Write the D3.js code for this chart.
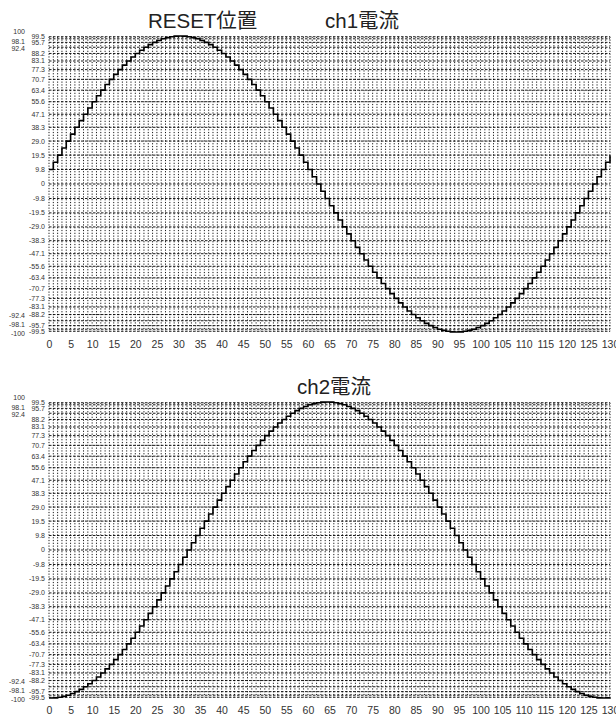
<!DOCTYPE html>
<html lang="ja">
<head>
    <meta charset="UTF-8">
    <title>ch1 / ch2 電流</title>
    <script src="https://d3js.org/d3.v7.min.js"></script>
    <style>
        body { margin: 0; background: #fff; }
        svg { display: block; font-family: "Liberation Sans", Arial, "Noto Sans CJK JP", sans-serif; }
        .title { font-size: 20.5px; fill: #222; }
        .ylab { font-size: 7px; fill: #333; }
        .xaxis text { font-size: 10.5px; fill: #333; font-family: "Liberation Sans", Arial, sans-serif; }
    </style>
</head>
<body>
    <script>
        // step number on the x axis
        const xTicks = [0, 5, 10, 15, 20, 25, 30, 35, 40, 45, 50, 55, 60, 65, 70, 75, 80, 85, 90, 95, 100, 105, 110, 115, 120, 125, 130];

        // current levels (%) labelled on the right column / stacked on the left
        const yTicksRight = [99.5, 95.7, 88.2, 83.1, 77.3, 70.7, 63.4, 55.6, 47.1, 38.3, 29.0, 19.5, 9.8, 0,
            -9.8, -19.5, -29.0, -38.3, -47.1, -55.6, -63.4, -70.7, -77.3, -83.1, -88.2, -95.7, -99.5];
        const yTicksLeft = [100, 98.1, 92.4, -92.4, -98.1, -100];

        const ch1 = [
            9.8, 14.7, 19.5, 24.3, 29.0, 33.7, 38.3, 42.8, 47.1, 51.4, 55.6, 59.6, 63.4, 67.2, 70.7, 74.1,
            77.3, 80.3, 83.1, 85.8, 88.2, 90.4, 92.4, 94.2, 95.7, 97.0, 98.1, 98.9, 99.5, 99.9, 100,
            99.9, 99.5, 98.9, 98.1, 97.0, 95.7, 94.2, 92.4, 90.4, 88.2, 85.8, 83.1, 80.3, 77.3, 74.1, 70.7,
            67.2, 63.4, 59.6, 55.6, 51.4, 47.1, 42.8, 38.3, 33.7, 29.0, 24.3, 19.5, 14.7, 9.8, 4.9, 0,
            -4.9, -9.8, -14.7, -19.5, -24.3, -29.0, -33.7, -38.3, -42.8, -47.1, -51.4, -55.6, -59.6, -63.4, -67.2, -70.7,
            -74.1, -77.3, -80.3, -83.1, -85.8, -88.2, -90.4, -92.4, -94.2, -95.7, -97.0, -98.1, -98.9, -99.5, -99.9, -100,
            -99.9, -99.5, -98.9, -98.1, -97.0, -95.7, -94.2, -92.4, -90.4, -88.2, -85.8, -83.1, -80.3, -77.3, -74.1, -70.7,
            -67.2, -63.4, -59.6, -55.6, -51.4, -47.1, -42.8, -38.3, -33.7, -29.0, -24.3, -19.5, -14.7, -9.8, -4.9, 0,
            4.9, 9.8, 14.7, 19.5
        ];

        const ch2 = [
            -100, -99.9, -99.5, -98.9, -98.1, -97.0, -95.7, -94.2, -92.4, -90.4, -88.2, -85.8, -83.1, -80.3, -77.3, -74.1,
            -70.7, -67.2, -63.4, -59.6, -55.6, -51.4, -47.1, -42.8, -38.3, -33.7, -29.0, -24.3, -19.5, -14.7, -9.8, -4.9, 0,
            4.9, 9.8, 14.7, 19.5, 24.3, 29.0, 33.7, 38.3, 42.8, 47.1, 51.4, 55.6, 59.6, 63.4, 67.2, 70.7,
            74.1, 77.3, 80.3, 83.1, 85.8, 88.2, 90.4, 92.4, 94.2, 95.7, 97.0, 98.1, 98.9, 99.5, 99.9, 100,
            99.9, 99.5, 98.9, 98.1, 97.0, 95.7, 94.2, 92.4, 90.4, 88.2, 85.8, 83.1, 80.3, 77.3, 74.1, 70.7,
            67.2, 63.4, 59.6, 55.6, 51.4, 47.1, 42.8, 38.3, 33.7, 29.0, 24.3, 19.5, 14.7, 9.8, 4.9, 0,
            -4.9, -9.8, -14.7, -19.5, -24.3, -29.0, -33.7, -38.3, -42.8, -47.1, -51.4, -55.6, -59.6, -63.4, -67.2, -70.7,
            -74.1, -77.3, -80.3, -83.1, -85.8, -88.2, -90.4, -92.4, -94.2, -95.7, -97.0, -98.1, -98.9, -99.5, -99.9, -100,
            -99.9, -99.5
        ];

        const width = 616, height = 716;
        const plotH = 296;

        const svg = d3.select("body").append("svg")
            .attr("width", width)
            .attr("height", height);

        const x = d3.scaleLinear().domain([0, 130]).range([49, 610]);
        const y = d3.scaleLinear().domain([-100, 100]).range([plotH, 0]);

        // the crowded labels near ±100 are pushed apart a bit
        const leftNudge = { "100": -4, "98.1": 3, "92.4": 1, "-92.4": -5, "-98.1": -5, "-100": 2 };

        const fmt = v => v === 0 ? "0" : (Math.abs(v) === 100 ? String(v) : v.toFixed(1));

        const line = d3.line()
            .x((d, i) => x(i))
            .y(d => y(d))
            .curve(d3.curveStepAfter);

        function drawPanel(top, series) {
            const g = svg.append("g").attr("transform", `translate(0,${top})`);

            // vertical dotted grid, one per step
            g.append("g").selectAll("line")
                .data(d3.range(0, 131))
                .join("line")
                .attr("x1", d => x(d)).attr("x2", d => x(d))
                .attr("y1", y(99.5)).attr("y2", y(-99.5))
                .attr("stroke", "#000")
                .attr("stroke-width", 0.9)
                .attr("stroke-dasharray", "1.2,1.6");

            // horizontal dashed grid at each labelled level
            const levels = yTicksRight.concat(yTicksLeft.filter(v => Math.abs(v) !== 100));
            g.append("g").selectAll("line")
                .data(levels)
                .join("line")
                .attr("x1", x(0)).attr("x2", x(130))
                .attr("y1", d => y(d)).attr("y2", d => y(d))
                .attr("stroke", "#000")
                .attr("stroke-width", 0.9)
                .attr("stroke-dasharray", "2.5,1.5");

            // y labels
            g.append("g").selectAll("text")
                .data(yTicksRight)
                .join("text")
                .attr("class", "ylab")
                .attr("x", 45)
                .attr("y", d => y(d))
                .attr("dy", "0.35em")
                .attr("text-anchor", "end")
                .text(fmt);

            g.append("g").selectAll("text")
                .data(yTicksLeft)
                .join("text")
                .attr("class", "ylab")
                .attr("x", 25)
                .attr("y", d => y(d) + leftNudge[String(d)])
                .attr("dy", "0.35em")
                .attr("text-anchor", "end")
                .text(fmt);

            // x axis labels
            const xa = g.append("g")
                .attr("class", "xaxis")
                .attr("transform", `translate(0,${plotH})`)
                .call(d3.axisBottom(x).tickValues(xTicks).tickSize(0).tickPadding(9));
            xa.select(".domain").remove();

            g.append("path")
                .datum(series)
                .attr("fill", "none")
                .attr("stroke", "#000")
                .attr("stroke-width", 1.6)
                .attr("d", line);

            return g;
        }

        drawPanel(36, ch1);
        drawPanel(402, ch2);

        svg.append("text").attr("class", "title").attr("x", 148).attr("y", 28).text("RESET位置");
        svg.append("text").attr("class", "title").attr("x", 325).attr("y", 28).text("ch1電流");
        svg.append("text").attr("class", "title").attr("x", 297).attr("y", 394).text("ch2電流");
    </script>
</body>
</html>
